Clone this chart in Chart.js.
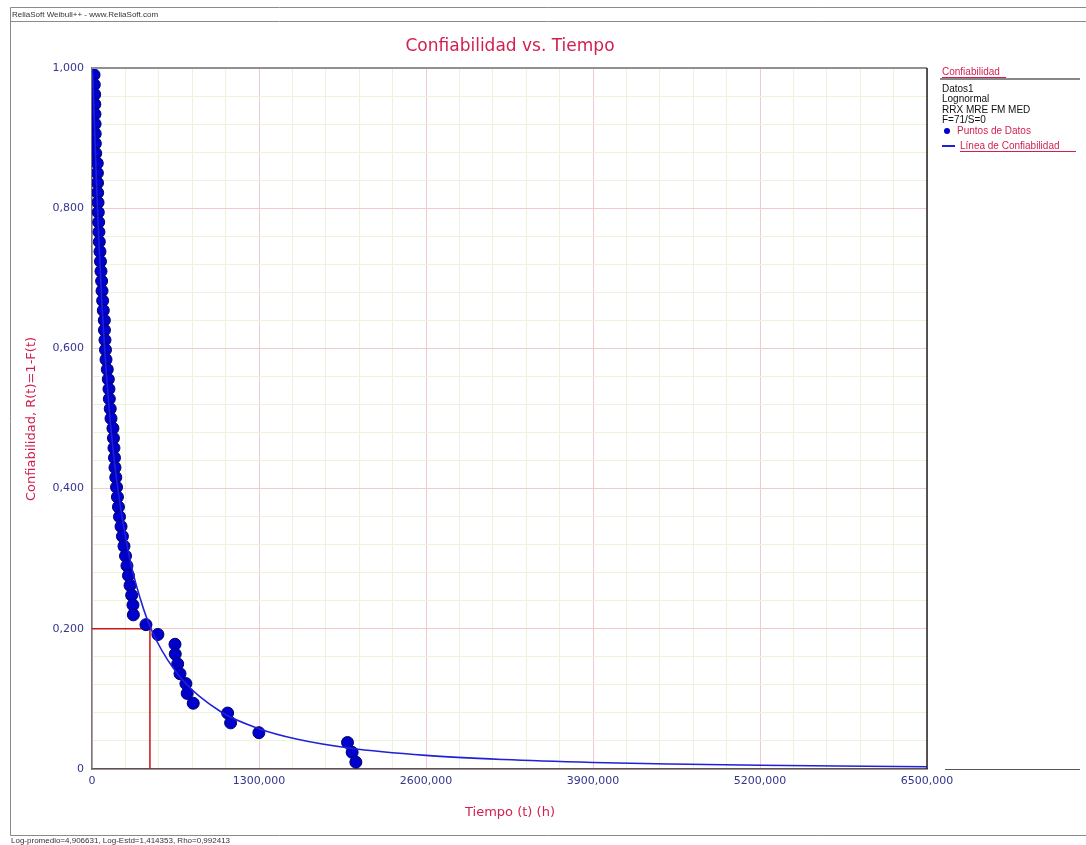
<!DOCTYPE html>
<html>
<head>
<meta charset="utf-8">
<script src="https://cdn.jsdelivr.net/npm/chart.js@4.4.0/dist/chart.umd.min.js"></script>
<style>
  body { margin: 0; background: #fff; }
  #wrap { width: 1086px; height: 845px; position: relative; }
</style>
</head>
<body>
<div id="wrap"><canvas id="chart" width="1086" height="845"></canvas></div>
<script>
// Data points (median ranks)
const pointTimes = [
  16000, 18000, 21000, 22000, 23000, 24000, 25000, 26000, 29000, 41000,
  42000, 43000, 44000, 47000, 49000, 52000, 54000, 57000, 62000, 66000,
  70000, 75000, 78000, 83000, 88000, 96000, 97000, 101000, 105000, 109000,
  119000, 127000, 132000, 135000, 142000, 148000, 163000, 167000, 171000, 175000,
  179000, 185000, 191000, 198000, 206000, 214000, 226000, 237000, 249000, 261000,
  272000, 284000, 296000, 309000, 319000, 322000, 420000, 513000, 646000, 648000,
  667000, 685000, 731000, 741000, 788000, 1056000, 1079000, 1299000, 1989000, 2025000,
  2054000
];
const pointRel = [
  0.9902, 0.9762, 0.9622, 0.9482, 0.9342, 0.9202, 0.9062, 0.8922, 0.8782, 0.8641,
  0.8501, 0.8361, 0.8221, 0.8081, 0.7941, 0.7801, 0.7661, 0.7521, 0.7381, 0.7241,
  0.7101, 0.6961, 0.6821, 0.6681, 0.6541, 0.6401, 0.6261, 0.6120, 0.5980, 0.5840,
  0.5700, 0.5560, 0.5420, 0.5280, 0.5140, 0.5000, 0.4860, 0.4720, 0.4580, 0.4440,
  0.4300, 0.4160, 0.4020, 0.3880, 0.3739, 0.3599, 0.3459, 0.3319, 0.3179, 0.3039,
  0.2899, 0.2759, 0.2619, 0.2479, 0.2339, 0.2199, 0.2059, 0.1919, 0.1779, 0.1639,
  0.1499, 0.1359, 0.1218, 0.1078, 0.0938, 0.0798, 0.0658, 0.0518, 0.0378, 0.0238,
  0.0098
];

// Reliability line
const curveTimes = [0, 5000, 10000, 20000, 35000, 50000, 75000, 100000, 150000, 200000,
  300000, 400000, 500000, 700000, 1000000, 1300000, 1600000, 2000000, 2600000, 3200000,
  3900000, 4500000, 5200000, 5800000, 6500000];
const curveRel = [1.0, 0.991, 0.969, 0.916, 0.837, 0.767, 0.671, 0.594, 0.481, 0.401,
  0.295, 0.229, 0.184, 0.128, 0.082, 0.0575, 0.0424, 0.030, 0.0194, 0.0135,
  0.0093, 0.0071, 0.0053, 0.0042, 0.0033];

// Red marker at R = 0,200
const markTime = 451000;
const markRel = 0.2;

const xMax = 6500000;
const xMajor = 1300000;
const xMinor = 260000;
const yMajor = 0.2;
const yMinor = 0.04;

const red = '#d21f4f';
const tickBlue = '#34348f';

function isMajor(v, step) {
  const r = v / step;
  return Math.abs(r - Math.round(r)) < 1e-6;
}

function fmtY(v) {
  if (Math.abs(v) < 1e-9) return '0';
  return v.toFixed(3).replace('.', ',');
}
function fmtX(v) {
  if (v === 0) return '0';
  return (v / 1000) + ',000';
}

const textPlugin = {
  id: 'textPlugin',
  beforeDraw(chart) {
    const ctx = chart.ctx;
    ctx.save();
    ctx.fillStyle = '#fff';
    ctx.fillRect(0, 0, chart.width, chart.height);
    ctx.restore();
  },
  afterDraw(chart) {
    const ctx = chart.ctx;
    const a = chart.chartArea;
    ctx.save();

    // outer frame
    ctx.strokeStyle = '#8a8a8a';
    ctx.lineWidth = 1;
    ctx.beginPath();
    ctx.moveTo(10.5, 7.5); ctx.lineTo(1086, 7.5);
    ctx.moveTo(10.5, 21.5); ctx.lineTo(1086, 21.5);
    ctx.moveTo(10.5, 7.5); ctx.lineTo(10.5, 835.5);
    ctx.moveTo(10.5, 835.5); ctx.lineTo(1086, 835.5);
    ctx.stroke();

    ctx.font = '8px "Liberation Sans"';
    ctx.fillStyle = '#333';
    ctx.textBaseline = 'middle';
    ctx.textAlign = 'left';
    ctx.fillText('ReliaSoft Weibull++ - www.ReliaSoft.com', 12, 14.5);
    ctx.fillText('Log-promedio=4,906631, Log-Estd=1,414353, Rho=0,992413', 11, 841);

    // plot frame top & right
    ctx.strokeStyle = '#909090';
    ctx.lineWidth = 2;
    ctx.beginPath();
    ctx.moveTo(a.left, a.top); ctx.lineTo(a.right, a.top);
    ctx.stroke();
    ctx.strokeStyle = '#222';
    ctx.lineWidth = 1.5;
    ctx.beginPath();
    ctx.moveTo(a.right, a.top); ctx.lineTo(a.right, a.bottom);
    ctx.stroke();
    ctx.strokeStyle = '#555';
    ctx.lineWidth = 1;
    ctx.beginPath();
    ctx.moveTo(945, a.bottom + 0.5); ctx.lineTo(1080, a.bottom + 0.5);
    ctx.stroke();

    // titles
    ctx.fillStyle = red;
    ctx.textAlign = 'center';
    ctx.font = '17px "DejaVu Sans"';
    ctx.fillText('Confiabilidad vs. Tiempo', 510, 47);
    ctx.font = '13px "DejaVu Sans"';
    ctx.fillText('Tiempo (t) (h)', 510, 813);
    ctx.save();
    ctx.translate(32, 419);
    ctx.rotate(-Math.PI / 2);
    ctx.fillText('Confiabilidad, R(t)=1-F(t)', 0, 0);
    ctx.restore();

    // legend
    ctx.textAlign = 'left';
    ctx.font = '10px "Liberation Sans"';
    ctx.fillStyle = red;
    ctx.fillText('Confiabilidad', 942, 72);
    ctx.fillRect(942, 77, 64, 1);
    ctx.fillStyle = '#888';
    ctx.fillRect(940, 78, 140, 2);
    ctx.fillStyle = '#111';
    ctx.fillText('Datos1', 942, 89);
    ctx.fillText('Lognormal', 942, 99.5);
    ctx.fillText('RRX MRE FM MED', 942, 110);
    ctx.fillText('F=71/S=0', 942, 120.5);
    ctx.fillStyle = '#0000c8';
    ctx.beginPath();
    ctx.arc(947, 131, 3, 0, Math.PI * 2);
    ctx.fill();
    ctx.fillStyle = red;
    ctx.fillText('Puntos de Datos', 957, 131.5);
    ctx.fillStyle = '#2020d8';
    ctx.fillRect(942, 145, 13, 2);
    ctx.fillStyle = red;
    ctx.fillText('Línea de Confiabilidad', 960, 146);
    ctx.fillRect(960, 151, 116, 1);

    ctx.restore();
  }
};

new Chart(document.getElementById('chart'), {
  type: 'scatter',
  data: {
    datasets: [
      {
        type: 'line',
        label: 'Marca',
        data: [{ x: 0, y: markRel }, { x: markTime, y: markRel }, { x: markTime, y: 0 }],
        borderColor: '#cc1414',
        borderWidth: 1.5,
        pointRadius: 0,
        fill: false,
        order: 3
      },
      {
        type: 'line',
        label: 'Línea de Confiabilidad',
        data: curveTimes.map((t, i) => ({ x: t, y: curveRel[i] })),
        borderColor: '#2020d8',
        borderWidth: 1.6,
        pointRadius: 0,
        cubicInterpolationMode: 'monotone',
        fill: false,
        order: 1
      },
      {
        label: 'Puntos de Datos',
        data: pointTimes.map((t, i) => ({ x: t, y: pointRel[i] })),
        backgroundColor: '#0000cc',
        borderColor: '#000070',
        borderWidth: 1,
        pointRadius: 6,
        order: 2
      }
    ]
  },
  options: {
    responsive: false,
    animation: false,
    devicePixelRatio: 1,
    layout: { padding: { top: 68, right: 159, left: 0, bottom: 0 } },
    plugins: {
      legend: { display: false },
      title: { display: false },
      tooltip: { enabled: false }
    },
    scales: {
      x: {
        type: 'linear',
        min: 0,
        max: xMax,
        afterFit(s) { s.height = 76; },
        ticks: {
          stepSize: xMinor,
          autoSkip: false,
          maxRotation: 0,
          padding: 6,
          color: tickBlue,
          font: { family: 'DejaVu Sans', size: 11 },
          callback: v => isMajor(v, xMajor) ? fmtX(v) : ''
        },
        grid: {
          drawTicks: false,
          color: c => isMajor(c.tick.value, xMajor) ? '#f2c9cc' : '#eaf4dc',
          lineWidth: 1
        },
        border: { color: '#555', width: 1.5 }
      },
      y: {
        type: 'linear',
        min: 0,
        max: 1,
        afterFit(s) { s.width = 92; },
        ticks: {
          stepSize: yMinor,
          autoSkip: false,
          padding: 8,
          color: tickBlue,
          font: { family: 'DejaVu Sans', size: 11 },
          callback: v => isMajor(v, yMajor) ? fmtY(v) : ''
        },
        grid: {
          drawTicks: false,
          color: c => isMajor(c.tick.value, yMajor) ? '#f2c9cc' : '#eaf4dc',
          lineWidth: 1
        },
        border: { color: '#777', width: 1.5 }
      }
    }
  },
  plugins: [textPlugin]
});
</script>
</body>
</html>
